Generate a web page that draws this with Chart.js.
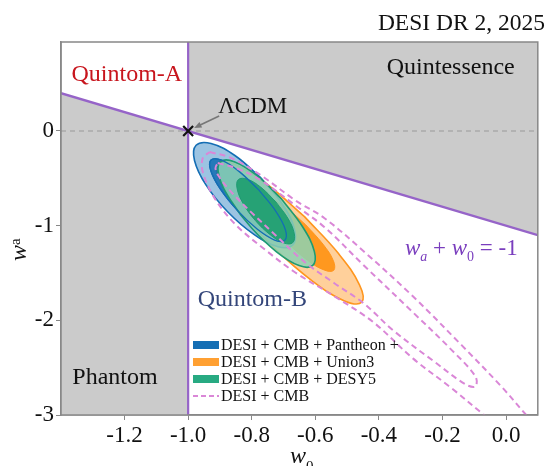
<!DOCTYPE html>
<html>
<head>
<meta charset="utf-8">
<script src="https://cdn.jsdelivr.net/npm/chart.js@4.4.1/dist/chart.umd.min.js"></script>
<style>
  html, body { margin: 0; padding: 0; background: #fff; }
  #wrap { width: 547px; height: 466px; }
</style>
</head>
<body>
<div id="wrap"><canvas id="chart" width="547" height="466"></canvas></div>
<script>
const SERIF = '"Liberation Serif", "DejaVu Serif", serif';

// axis ranges and ticks
const X_MIN = -1.4, X_MAX = 0.1;
const Y_MIN = -3, Y_MAX = 0.94;
const xTicks = [-1.2, -1.0, -0.8, -0.6, -0.4, -0.2, 0.0];
const yTicks = [-3, -2, -1, 0];

// w0 + wa = -1 divider and the LCDM point
const dividerW0 = [-1.4, 0.1];
const dividerWa = [0.4, -1.1];
const lcdm = [-1, 0];

// confidence contours, [w0, wa] vertices (68% and 95%)
const pantheon95 = [[-0.770,-0.499],[-0.853,-0.259],[-0.928,-0.132],[-0.975,-0.151],[-0.980,-0.311],[-0.944,-0.569],[-0.875,-0.856],[-0.792,-1.095],[-0.717,-1.223],[-0.671,-1.204],[-0.665,-1.044],[-0.701,-0.786]];
const pantheon68 = [[-0.778,-0.622],[-0.841,-0.424],[-0.895,-0.308],[-0.928,-0.306],[-0.929,-0.417],[-0.899,-0.612],[-0.845,-0.839],[-0.783,-1.036],[-0.728,-1.152],[-0.696,-1.155],[-0.694,-1.043],[-0.724,-0.848]];
const union95 = [[-0.634,-0.905],[-0.753,-0.560],[-0.853,-0.353],[-0.907,-0.340],[-0.900,-0.523],[-0.834,-0.853],[-0.727,-1.243],[-0.608,-1.588],[-0.508,-1.795],[-0.454,-1.808],[-0.461,-1.625],[-0.527,-1.295]];
const union68 = [[-0.630,-0.991],[-0.691,-0.813],[-0.744,-0.710],[-0.773,-0.708],[-0.771,-0.809],[-0.739,-0.985],[-0.685,-1.189],[-0.624,-1.367],[-0.571,-1.470],[-0.542,-1.472],[-0.543,-1.371],[-0.576,-1.195]];
const desy95 = [[-0.705,-0.723],[-0.784,-0.470],[-0.855,-0.324],[-0.898,-0.326],[-0.903,-0.474],[-0.867,-0.729],[-0.801,-1.023],[-0.722,-1.276],[-0.651,-1.422],[-0.608,-1.420],[-0.603,-1.272],[-0.639,-1.017]];
const desy68 = [[-0.724,-0.749],[-0.771,-0.595],[-0.814,-0.509],[-0.842,-0.513],[-0.846,-0.607],[-0.827,-0.765],[-0.789,-0.944],[-0.741,-1.098],[-0.698,-1.184],[-0.671,-1.180],[-0.666,-1.086],[-0.685,-0.929]];
const cmb68 = [[-0.907,-0.339],[-0.849,-0.392],[-0.772,-0.519],[-0.664,-0.783],[-0.571,-1.016],[-0.448,-1.418],[-0.293,-1.915],[-0.170,-2.317],[-0.096,-2.593],[-0.096,-2.698],[-0.127,-2.677],[-0.231,-2.423],[-0.355,-2.106],[-0.448,-1.820],[-0.540,-1.608],[-0.633,-1.386],[-0.725,-1.101],[-0.802,-0.857],[-0.864,-0.646],[-0.904,-0.476],[-0.914,-0.392]];
const cmb95 = [[-0.932,-0.222],[-0.864,-0.286],[-0.772,-0.466],[-0.664,-0.730],[-0.571,-0.921],[-0.448,-1.270],[-0.293,-1.746],[-0.139,-2.265],[-0.015,-2.698],[0.062,-2.995],[0.133,-3.270],[0.028,-3.270],[-0.071,-2.995],[-0.170,-2.720],[-0.293,-2.402],[-0.417,-2.021],[-0.540,-1.746],[-0.664,-1.492],[-0.756,-1.259],[-0.849,-0.995],[-0.917,-0.709],[-0.954,-0.434],[-0.954,-0.286]];

const legendLabels = ['DESI + CMB + Pantheon +', 'DESI + CMB + Union3', 'DESI + CMB + DESY5', 'DESI + CMB'];

const GRAY = '#cbcbcb';
const PURPLE = 'rgb(150,100,200)';
const BLUE = 'rgb(20,110,180)';
const ORANGE = 'rgb(255,150,30)';
const GREEN = 'rgb(30,155,115)';
const PINK = 'rgb(218,135,215)';

const toXY = pts => pts.map(([x, y]) => ({ x, y }));
const loop = pts => toXY(pts.concat([pts[0]]));

function region(points) {
  return { data: toXY(points), showLine: true, fill: 'shape', backgroundColor: GRAY,
           borderWidth: 0, pointRadius: 0, tension: 0 };
}

function contour(points, fillColor, lineColor, width) {
  return { data: loop(points), showLine: true, fill: fillColor ? 'shape' : false,
           backgroundColor: fillColor || 'transparent', borderColor: lineColor,
           borderWidth: width, pointRadius: 0, tension: 0.4 };
}

function dashed(points) {
  return { data: loop(points), showLine: true, fill: false, borderColor: PINK,
           borderWidth: 2, borderDash: [6, 4], pointRadius: 0, tension: 0.35 };
}

// shaded quadrants: quintessence (w0 > -1, above divider) and phantom (w0 < -1, below)
const quintessence = [[lcdm[0], Y_MAX], [lcdm[0], lcdm[1]], [dividerW0[1], dividerWa[1]], [dividerW0[1], Y_MAX]];
const phantom = [[dividerW0[0], dividerWa[0]], [lcdm[0], lcdm[1]], [lcdm[0], Y_MIN], [dividerW0[0], Y_MIN]];

// listed bottom layer first
const layers = [
  region(quintessence),
  region(phantom),
  { data: [{ x: X_MIN, y: 0 }, { x: X_MAX, y: 0 }], showLine: true, borderColor: '#9a9a9a',
    borderWidth: 1.2, borderDash: [5, 4], pointRadius: 0 },
  { data: [{ x: lcdm[0], y: Y_MIN }, { x: lcdm[0], y: Y_MAX }], showLine: true, borderColor: PURPLE,
    borderWidth: 2.2, pointRadius: 0 },
  { data: toXY([[dividerW0[0], dividerWa[0]], [dividerW0[1], dividerWa[1]]]), showLine: true,
    borderColor: PURPLE, borderWidth: 2.5, pointRadius: 0 },
  contour(union95, 'rgba(255,205,150,0.95)', ORANGE, 1.6),
  contour(union68, 'rgba(255,150,25,0.95)', ORANGE, 1),
  contour(pantheon95, 'rgba(20,115,185,0.42)', BLUE, 1.6),
  contour(pantheon68, 'rgba(20,110,180,0.88)', BLUE, 1.2),
  contour(desy95, 'rgba(140,210,180,0.85)', GREEN, 1.6),
  contour(desy68, 'rgba(30,158,112,0.92)', GREEN, 1),
  contour(pantheon68, null, BLUE, 1.3),
  dashed(cmb95),
  dashed(cmb68),
  { data: [{ x: lcdm[0], y: lcdm[1] }], pointStyle: 'crossRot', pointRadius: 7,
    borderColor: '#111', borderWidth: 2.2 }
];
layers.forEach((d, i) => { d.order = layers.length - i; });

function text(ctx, str, x, y, size, color, opts = {}) {
  ctx.font = (opts.italic ? 'italic ' : '') + size + 'px ' + SERIF;
  ctx.fillStyle = color;
  ctx.textAlign = opts.align || 'left';
  ctx.textBaseline = opts.baseline || 'alphabetic';
  ctx.fillText(str, x, y);
  return ctx.measureText(str).width;
}

const decorations = {
  id: 'decorations',
  afterDatasetsDraw(chart) {
    const { ctx, chartArea: a, scales: { x, y } } = chart;
    ctx.save();

    // plot frame
    ctx.strokeStyle = '#888';
    ctx.lineWidth = 1.5;
    ctx.strokeRect(a.left, a.top, a.right - a.left, a.bottom - a.top);

    text(ctx, 'DESI DR 2, 2025', 545, 30, 23.5, '#111', { align: 'right' });

    text(ctx, 'Quintom-A', x.getPixelForValue(-1.193), y.getPixelForValue(0.53), 24, 'rgb(200,22,30)', { align: 'center' });
    text(ctx, 'Quintessence', x.getPixelForValue(-0.174), y.getPixelForValue(0.60), 24, '#111', { align: 'center' });
    text(ctx, 'Quintom-B', x.getPixelForValue(-0.798), y.getPixelForValue(-1.852), 24, 'rgb(52,70,122)', { align: 'center' });
    text(ctx, 'Phantom', x.getPixelForValue(-1.23), y.getPixelForValue(-2.677), 24, '#111', { align: 'center' });

    // LCDM label with arrow to the point
    const px = x.getPixelForValue(lcdm[0]), py = y.getPixelForValue(lcdm[1]);
    text(ctx, 'ΛCDM', px + 30, py - 18, 23, '#111');
    const tx = px + 31, ty = py - 15, hx = px + 6, hy = py - 3;
    ctx.strokeStyle = '#777';
    ctx.fillStyle = '#777';
    ctx.lineWidth = 1.6;
    ctx.beginPath(); ctx.moveTo(tx, ty); ctx.lineTo(hx + 5, hy - 2.5); ctx.stroke();
    const ang = Math.atan2(hy - ty, hx - tx);
    ctx.beginPath();
    ctx.moveTo(hx, hy);
    ctx.lineTo(hx - 8 * Math.cos(ang - 0.4), hy - 8 * Math.sin(ang - 0.4));
    ctx.lineTo(hx - 8 * Math.cos(ang + 0.4), hy - 8 * Math.sin(ang + 0.4));
    ctx.closePath(); ctx.fill();

    // divider equation
    const EQ = 'rgb(122,62,190)';
    let ex = x.getPixelForValue(-0.318);
    const ey = y.getPixelForValue(-1.312);
    ex += text(ctx, 'w', ex, ey, 23, EQ, { italic: true });
    ex += text(ctx, 'a', ex, ey + 6, 14, EQ, { italic: true });
    ex += text(ctx, ' + ', ex, ey, 23, EQ);
    ex += text(ctx, 'w', ex, ey, 23, EQ, { italic: true });
    ex += text(ctx, '0', ex, ey + 6, 14, EQ);
    text(ctx, ' = -1', ex, ey, 23, EQ);

    // axis titles
    const wx = text(ctx, 'w', 290, 463, 24, '#111', { italic: true });
    text(ctx, '0', 290 + wx, 471, 15, '#111');
    ctx.save();
    ctx.translate(26, 261);
    ctx.rotate(-Math.PI / 2);
    const wy = text(ctx, 'w', 0, 0, 24, '#111', { italic: true });
    text(ctx, 'a', wy, -6, 15, '#111');
    ctx.restore();

    // legend
    const swatches = [BLUE, 'rgb(255,160,50)', 'rgb(40,170,130)', null];
    legendLabels.forEach((label, i) => {
      const ly = 345 + i * 17;
      if (swatches[i]) {
        ctx.fillStyle = swatches[i];
        ctx.fillRect(193, ly - 4, 26, 8);
      } else {
        ctx.strokeStyle = PINK;
        ctx.lineWidth = 2;
        ctx.setLineDash([5, 3]);
        ctx.beginPath(); ctx.moveTo(193, ly); ctx.lineTo(219, ly); ctx.stroke();
        ctx.setLineDash([]);
      }
      text(ctx, label, 221, ly + 1, 16, '#111', { baseline: 'middle' });
    });

    ctx.restore();
  }
};

new Chart(document.getElementById('chart'), {
  type: 'scatter',
  data: { datasets: layers },
  options: {
    responsive: false,
    animation: false,
    events: [],
    layout: { padding: { top: 42, right: 1, left: 0, bottom: 0 } },
    plugins: { legend: { display: false }, tooltip: { enabled: false } },
    scales: {
      x: {
        type: 'linear', min: X_MIN, max: X_MAX,
        afterBuildTicks: s => { s.ticks = xTicks.map(v => ({ value: v })); },
        afterFit: s => { s.height = 51; },
        ticks: { callback: v => v.toFixed(1), font: { family: SERIF, size: 23 }, color: '#111',
                 padding: 2, maxRotation: 0, autoSkip: false },
        grid: { drawOnChartArea: false, tickLength: 5, color: '#888' },
        border: { color: '#888', width: 1.5 }
      },
      y: {
        type: 'linear', min: Y_MIN, max: Y_MAX,
        afterBuildTicks: s => { s.ticks = yTicks.map(v => ({ value: v })); },
        afterFit: s => { s.width = 61; },
        ticks: { callback: v => String(v), font: { family: SERIF, size: 23 }, color: '#111',
                 padding: 2, autoSkip: false },
        grid: { drawOnChartArea: false, tickLength: 5, color: '#888' },
        border: { color: '#888', width: 1.5 }
      }
    }
  },
  plugins: [decorations]
});
</script>
</body>
</html>
